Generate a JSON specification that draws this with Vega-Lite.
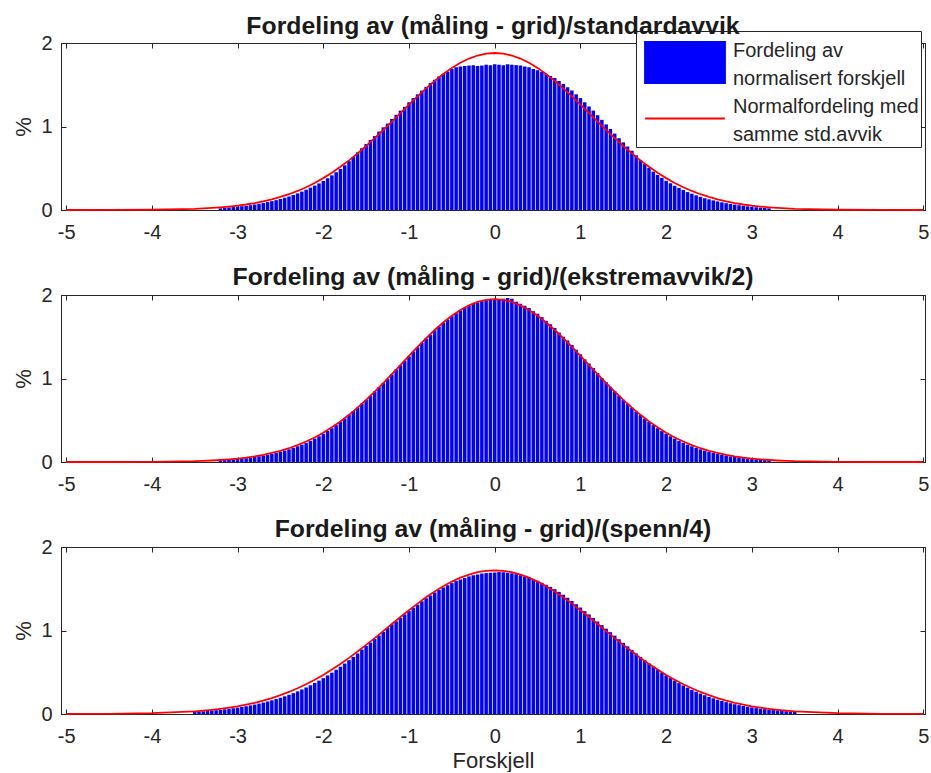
{
  "$schema": "https://vega.github.io/schema/vega-lite/v6.json",
  "padding": {"left": 12, "top": 13, "right": 0, "bottom": 0},
  "background": "white",
  "spacing": 21,
  "config": {
    "font": "Liberation Sans",
    "view": {"stroke": "#262626", "strokeWidth": 1},
    "axis": {"labelFont": "Liberation Sans", "labelFontSize": 20, "labelColor": "#262626", "titleFont": "Liberation Sans", "titleFontSize": 22, "titleFontWeight": "normal", "titleColor": "#262626", "domainColor": "#262626", "tickColor": "#262626", "tickSize": -5, "grid": false},
    "title": {"font": "Liberation Sans", "fontSize": 24.8, "fontWeight": "bold", "color": "#1a1a1a", "offset": -5}
  },
  "datasets": {
    "b1": [{"x":-3.2,"y":0.02},{"x":-3.15,"y":0.025},{"x":-3.1,"y":0.03},{"x":-3.05,"y":0.035},{"x":-3,"y":0.04},{"x":-2.95,"y":0.045},{"x":-2.9,"y":0.05},{"x":-2.85,"y":0.058},{"x":-2.8,"y":0.066},{"x":-2.75,"y":0.075},{"x":-2.7,"y":0.084},{"x":-2.65,"y":0.095},{"x":-2.6,"y":0.106},{"x":-2.55,"y":0.118},{"x":-2.5,"y":0.132},{"x":-2.45,"y":0.147},{"x":-2.4,"y":0.162},{"x":-2.35,"y":0.18},{"x":-2.3,"y":0.199},{"x":-2.25,"y":0.22},{"x":-2.2,"y":0.243},{"x":-2.15,"y":0.267},{"x":-2.1,"y":0.292},{"x":-2.05,"y":0.318},{"x":-2,"y":0.348},{"x":-1.95,"y":0.38},{"x":-1.9,"y":0.415},{"x":-1.85,"y":0.452},{"x":-1.8,"y":0.492},{"x":-1.75,"y":0.535},{"x":-1.7,"y":0.585},{"x":-1.65,"y":0.635},{"x":-1.6,"y":0.69},{"x":-1.55,"y":0.74},{"x":-1.5,"y":0.79},{"x":-1.45,"y":0.84},{"x":-1.4,"y":0.885},{"x":-1.35,"y":0.94},{"x":-1.3,"y":0.99},{"x":-1.25,"y":1.035},{"x":-1.2,"y":1.09},{"x":-1.15,"y":1.14},{"x":-1.1,"y":1.19},{"x":-1.05,"y":1.235},{"x":-1,"y":1.29},{"x":-0.95,"y":1.34},{"x":-0.9,"y":1.385},{"x":-0.85,"y":1.43},{"x":-0.8,"y":1.475},{"x":-0.75,"y":1.52},{"x":-0.7,"y":1.56},{"x":-0.65,"y":1.6},{"x":-0.6,"y":1.63},{"x":-0.55,"y":1.66},{"x":-0.5,"y":1.69},{"x":-0.45,"y":1.71},{"x":-0.4,"y":1.72},{"x":-0.35,"y":1.725},{"x":-0.3,"y":1.73},{"x":-0.25,"y":1.735},{"x":-0.2,"y":1.725},{"x":-0.15,"y":1.73},{"x":-0.1,"y":1.74},{"x":-0.05,"y":1.735},{"x":0,"y":1.745},{"x":0.05,"y":1.74},{"x":0.1,"y":1.735},{"x":0.15,"y":1.745},{"x":0.2,"y":1.74},{"x":0.25,"y":1.735},{"x":0.3,"y":1.73},{"x":0.35,"y":1.72},{"x":0.4,"y":1.71},{"x":0.45,"y":1.69},{"x":0.5,"y":1.675},{"x":0.55,"y":1.655},{"x":0.6,"y":1.63},{"x":0.65,"y":1.605},{"x":0.7,"y":1.58},{"x":0.75,"y":1.545},{"x":0.8,"y":1.51},{"x":0.85,"y":1.47},{"x":0.9,"y":1.43},{"x":0.95,"y":1.385},{"x":1,"y":1.34},{"x":1.05,"y":1.29},{"x":1.1,"y":1.24},{"x":1.15,"y":1.19},{"x":1.2,"y":1.135},{"x":1.25,"y":1.08},{"x":1.3,"y":1.025},{"x":1.35,"y":0.97},{"x":1.4,"y":0.915},{"x":1.45,"y":0.86},{"x":1.5,"y":0.81},{"x":1.55,"y":0.76},{"x":1.6,"y":0.71},{"x":1.65,"y":0.655},{"x":1.7,"y":0.6},{"x":1.75,"y":0.55},{"x":1.8,"y":0.505},{"x":1.85,"y":0.46},{"x":1.9,"y":0.42},{"x":1.95,"y":0.385},{"x":2,"y":0.35},{"x":2.05,"y":0.32},{"x":2.1,"y":0.29},{"x":2.15,"y":0.265},{"x":2.2,"y":0.24},{"x":2.25,"y":0.215},{"x":2.3,"y":0.195},{"x":2.35,"y":0.176},{"x":2.4,"y":0.158},{"x":2.45,"y":0.142},{"x":2.5,"y":0.128},{"x":2.55,"y":0.115},{"x":2.6,"y":0.103},{"x":2.65,"y":0.092},{"x":2.7,"y":0.082},{"x":2.75,"y":0.073},{"x":2.8,"y":0.065},{"x":2.85,"y":0.057},{"x":2.9,"y":0.05},{"x":2.95,"y":0.044},{"x":3,"y":0.038},{"x":3.05,"y":0.033},{"x":3.1,"y":0.028},{"x":3.15,"y":0.024},{"x":3.2,"y":0.02}],
    "b2": [{"x":-3.2,"y":0.018},{"x":-3.15,"y":0.022},{"x":-3.1,"y":0.026},{"x":-3.05,"y":0.03},{"x":-3,"y":0.035},{"x":-2.95,"y":0.04},{"x":-2.9,"y":0.046},{"x":-2.85,"y":0.052},{"x":-2.8,"y":0.06},{"x":-2.75,"y":0.068},{"x":-2.7,"y":0.077},{"x":-2.65,"y":0.087},{"x":-2.6,"y":0.098},{"x":-2.55,"y":0.109},{"x":-2.5,"y":0.122},{"x":-2.45,"y":0.137},{"x":-2.4,"y":0.152},{"x":-2.35,"y":0.169},{"x":-2.3,"y":0.188},{"x":-2.25,"y":0.208},{"x":-2.2,"y":0.23},{"x":-2.15,"y":0.254},{"x":-2.1,"y":0.28},{"x":-2.05,"y":0.308},{"x":-2,"y":0.338},{"x":-1.95,"y":0.372},{"x":-1.9,"y":0.405},{"x":-1.85,"y":0.442},{"x":-1.8,"y":0.48},{"x":-1.75,"y":0.522},{"x":-1.7,"y":0.565},{"x":-1.65,"y":0.61},{"x":-1.6,"y":0.652},{"x":-1.55,"y":0.7},{"x":-1.5,"y":0.745},{"x":-1.45,"y":0.792},{"x":-1.4,"y":0.845},{"x":-1.35,"y":0.895},{"x":-1.3,"y":0.945},{"x":-1.25,"y":0.995},{"x":-1.2,"y":1.05},{"x":-1.15,"y":1.108},{"x":-1.1,"y":1.16},{"x":-1.05,"y":1.212},{"x":-1,"y":1.265},{"x":-0.95,"y":1.322},{"x":-0.9,"y":1.375},{"x":-0.85,"y":1.428},{"x":-0.8,"y":1.478},{"x":-0.75,"y":1.525},{"x":-0.7,"y":1.578},{"x":-0.65,"y":1.622},{"x":-0.6,"y":1.668},{"x":-0.55,"y":1.708},{"x":-0.5,"y":1.745},{"x":-0.45,"y":1.782},{"x":-0.4,"y":1.815},{"x":-0.35,"y":1.845},{"x":-0.3,"y":1.872},{"x":-0.25,"y":1.892},{"x":-0.2,"y":1.91},{"x":-0.15,"y":1.925},{"x":-0.1,"y":1.935},{"x":-0.05,"y":1.942},{"x":0,"y":1.945},{"x":0.05,"y":1.95},{"x":0.1,"y":1.955},{"x":0.15,"y":1.965},{"x":0.2,"y":1.955},{"x":0.25,"y":1.92},{"x":0.3,"y":1.895},{"x":0.35,"y":1.87},{"x":0.4,"y":1.845},{"x":0.45,"y":1.805},{"x":0.5,"y":1.775},{"x":0.55,"y":1.735},{"x":0.6,"y":1.69},{"x":0.65,"y":1.65},{"x":0.7,"y":1.605},{"x":0.75,"y":1.55},{"x":0.8,"y":1.5},{"x":0.85,"y":1.455},{"x":0.9,"y":1.4},{"x":0.95,"y":1.345},{"x":1,"y":1.29},{"x":1.05,"y":1.23},{"x":1.1,"y":1.18},{"x":1.15,"y":1.125},{"x":1.2,"y":1.065},{"x":1.25,"y":1.005},{"x":1.3,"y":0.955},{"x":1.35,"y":0.9},{"x":1.4,"y":0.848},{"x":1.45,"y":0.795},{"x":1.5,"y":0.745},{"x":1.55,"y":0.698},{"x":1.6,"y":0.65},{"x":1.65,"y":0.605},{"x":1.7,"y":0.562},{"x":1.75,"y":0.52},{"x":1.8,"y":0.48},{"x":1.85,"y":0.442},{"x":1.9,"y":0.405},{"x":1.95,"y":0.37},{"x":2,"y":0.338},{"x":2.05,"y":0.308},{"x":2.1,"y":0.28},{"x":2.15,"y":0.254},{"x":2.2,"y":0.23},{"x":2.25,"y":0.208},{"x":2.3,"y":0.188},{"x":2.35,"y":0.169},{"x":2.4,"y":0.152},{"x":2.45,"y":0.137},{"x":2.5,"y":0.122},{"x":2.55,"y":0.109},{"x":2.6,"y":0.098},{"x":2.65,"y":0.087},{"x":2.7,"y":0.077},{"x":2.75,"y":0.068},{"x":2.8,"y":0.06},{"x":2.85,"y":0.052},{"x":2.9,"y":0.046},{"x":2.95,"y":0.04},{"x":3,"y":0.035},{"x":3.05,"y":0.03},{"x":3.1,"y":0.026},{"x":3.15,"y":0.022},{"x":3.2,"y":0.018}],
    "b3": [{"x":-3.5,"y":0.025},{"x":-3.45,"y":0.028},{"x":-3.4,"y":0.032},{"x":-3.35,"y":0.036},{"x":-3.3,"y":0.04},{"x":-3.25,"y":0.045},{"x":-3.2,"y":0.05},{"x":-3.15,"y":0.056},{"x":-3.1,"y":0.062},{"x":-3.05,"y":0.069},{"x":-3,"y":0.076},{"x":-2.95,"y":0.084},{"x":-2.9,"y":0.093},{"x":-2.85,"y":0.103},{"x":-2.8,"y":0.113},{"x":-2.75,"y":0.125},{"x":-2.7,"y":0.137},{"x":-2.65,"y":0.15},{"x":-2.6,"y":0.164},{"x":-2.55,"y":0.179},{"x":-2.5,"y":0.195},{"x":-2.45,"y":0.212},{"x":-2.4,"y":0.23},{"x":-2.35,"y":0.25},{"x":-2.3,"y":0.271},{"x":-2.25,"y":0.294},{"x":-2.2,"y":0.318},{"x":-2.15,"y":0.344},{"x":-2.1,"y":0.372},{"x":-2.05,"y":0.4},{"x":-2,"y":0.43},{"x":-1.95,"y":0.462},{"x":-1.9,"y":0.495},{"x":-1.85,"y":0.53},{"x":-1.8,"y":0.566},{"x":-1.75,"y":0.604},{"x":-1.7,"y":0.644},{"x":-1.65,"y":0.684},{"x":-1.6,"y":0.725},{"x":-1.55,"y":0.772},{"x":-1.5,"y":0.815},{"x":-1.45,"y":0.855},{"x":-1.4,"y":0.898},{"x":-1.35,"y":0.94},{"x":-1.3,"y":0.982},{"x":-1.25,"y":1.03},{"x":-1.2,"y":1.075},{"x":-1.15,"y":1.11},{"x":-1.1,"y":1.152},{"x":-1.05,"y":1.192},{"x":-1,"y":1.232},{"x":-0.95,"y":1.272},{"x":-0.9,"y":1.31},{"x":-0.85,"y":1.35},{"x":-0.8,"y":1.386},{"x":-0.75,"y":1.42},{"x":-0.7,"y":1.455},{"x":-0.65,"y":1.485},{"x":-0.6,"y":1.515},{"x":-0.55,"y":1.542},{"x":-0.5,"y":1.568},{"x":-0.45,"y":1.592},{"x":-0.4,"y":1.612},{"x":-0.35,"y":1.63},{"x":-0.3,"y":1.648},{"x":-0.25,"y":1.662},{"x":-0.2,"y":1.672},{"x":-0.15,"y":1.682},{"x":-0.1,"y":1.688},{"x":-0.05,"y":1.692},{"x":0,"y":1.695},{"x":0.05,"y":1.7},{"x":0.1,"y":1.698},{"x":0.15,"y":1.692},{"x":0.2,"y":1.685},{"x":0.25,"y":1.675},{"x":0.3,"y":1.662},{"x":0.35,"y":1.648},{"x":0.4,"y":1.632},{"x":0.45,"y":1.612},{"x":0.5,"y":1.595},{"x":0.55,"y":1.572},{"x":0.6,"y":1.548},{"x":0.65,"y":1.522},{"x":0.7,"y":1.495},{"x":0.75,"y":1.462},{"x":0.8,"y":1.428},{"x":0.85,"y":1.392},{"x":0.9,"y":1.352},{"x":0.95,"y":1.315},{"x":1,"y":1.275},{"x":1.05,"y":1.232},{"x":1.1,"y":1.192},{"x":1.15,"y":1.15},{"x":1.2,"y":1.108},{"x":1.25,"y":1.065},{"x":1.3,"y":1.022},{"x":1.35,"y":0.98},{"x":1.4,"y":0.938},{"x":1.45,"y":0.895},{"x":1.5,"y":0.852},{"x":1.55,"y":0.81},{"x":1.6,"y":0.768},{"x":1.65,"y":0.725},{"x":1.7,"y":0.684},{"x":1.75,"y":0.645},{"x":1.8,"y":0.606},{"x":1.85,"y":0.568},{"x":1.9,"y":0.532},{"x":1.95,"y":0.497},{"x":2,"y":0.463},{"x":2.05,"y":0.43},{"x":2.1,"y":0.4},{"x":2.15,"y":0.37},{"x":2.2,"y":0.342},{"x":2.25,"y":0.316},{"x":2.3,"y":0.29},{"x":2.35,"y":0.267},{"x":2.4,"y":0.245},{"x":2.45,"y":0.225},{"x":2.5,"y":0.205},{"x":2.55,"y":0.188},{"x":2.6,"y":0.171},{"x":2.65,"y":0.156},{"x":2.7,"y":0.142},{"x":2.75,"y":0.129},{"x":2.8,"y":0.117},{"x":2.85,"y":0.106},{"x":2.9,"y":0.096},{"x":2.95,"y":0.087},{"x":3,"y":0.079},{"x":3.05,"y":0.071},{"x":3.1,"y":0.064},{"x":3.15,"y":0.058},{"x":3.2,"y":0.052},{"x":3.25,"y":0.047},{"x":3.3,"y":0.042},{"x":3.35,"y":0.037},{"x":3.4,"y":0.033},{"x":3.45,"y":0.029},{"x":3.5,"y":0.026}],
    "c1": [{"x":-5,"y":0},{"x":-4.5,"y":0.0005},{"x":-4,"y":0.003},{"x":-3.5,"y":0.014},{"x":-3.4,"y":0.019},{"x":-3.3,"y":0.025},{"x":-3.2,"y":0.032},{"x":-3.1,"y":0.041},{"x":-3,"y":0.052},{"x":-2.9,"y":0.066},{"x":-2.8,"y":0.083},{"x":-2.7,"y":0.103},{"x":-2.6,"y":0.127},{"x":-2.5,"y":0.156},{"x":-2.4,"y":0.189},{"x":-2.3,"y":0.228},{"x":-2.2,"y":0.273},{"x":-2.1,"y":0.324},{"x":-2,"y":0.382},{"x":-1.9,"y":0.446},{"x":-1.8,"y":0.517},{"x":-1.7,"y":0.594},{"x":-1.6,"y":0.678},{"x":-1.5,"y":0.767},{"x":-1.4,"y":0.861},{"x":-1.3,"y":0.959},{"x":-1.2,"y":1.059},{"x":-1.1,"y":1.161},{"x":-1,"y":1.262},{"x":-0.9,"y":1.361},{"x":-0.8,"y":1.457},{"x":-0.7,"y":1.547},{"x":-0.6,"y":1.629},{"x":-0.5,"y":1.702},{"x":-0.4,"y":1.764},{"x":-0.3,"y":1.814},{"x":-0.2,"y":1.85},{"x":-0.1,"y":1.873},{"x":0,"y":1.88},{"x":0.1,"y":1.873},{"x":0.2,"y":1.85},{"x":0.3,"y":1.814},{"x":0.4,"y":1.764},{"x":0.5,"y":1.702},{"x":0.6,"y":1.629},{"x":0.7,"y":1.547},{"x":0.8,"y":1.457},{"x":0.9,"y":1.361},{"x":1,"y":1.262},{"x":1.1,"y":1.161},{"x":1.2,"y":1.059},{"x":1.3,"y":0.959},{"x":1.4,"y":0.861},{"x":1.5,"y":0.767},{"x":1.6,"y":0.678},{"x":1.7,"y":0.594},{"x":1.8,"y":0.517},{"x":1.9,"y":0.446},{"x":2,"y":0.382},{"x":2.1,"y":0.324},{"x":2.2,"y":0.273},{"x":2.3,"y":0.228},{"x":2.4,"y":0.189},{"x":2.5,"y":0.156},{"x":2.6,"y":0.127},{"x":2.7,"y":0.103},{"x":2.8,"y":0.083},{"x":2.9,"y":0.066},{"x":3,"y":0.052},{"x":3.1,"y":0.041},{"x":3.2,"y":0.032},{"x":3.3,"y":0.025},{"x":3.4,"y":0.019},{"x":3.5,"y":0.014},{"x":4,"y":0.003},{"x":4.5,"y":0.0005},{"x":5,"y":0}],
    "c2": [{"x":-5,"y":0},{"x":-4.5,"y":0},{"x":-4,"y":0.002},{"x":-3.5,"y":0.01},{"x":-3.4,"y":0.014},{"x":-3.3,"y":0.018},{"x":-3.2,"y":0.024},{"x":-3.1,"y":0.032},{"x":-3,"y":0.041},{"x":-2.9,"y":0.053},{"x":-2.8,"y":0.068},{"x":-2.7,"y":0.086},{"x":-2.6,"y":0.108},{"x":-2.5,"y":0.134},{"x":-2.4,"y":0.165},{"x":-2.3,"y":0.202},{"x":-2.2,"y":0.245},{"x":-2.1,"y":0.294},{"x":-2,"y":0.351},{"x":-1.9,"y":0.415},{"x":-1.8,"y":0.486},{"x":-1.7,"y":0.565},{"x":-1.6,"y":0.651},{"x":-1.5,"y":0.743},{"x":-1.4,"y":0.842},{"x":-1.3,"y":0.945},{"x":-1.2,"y":1.052},{"x":-1.1,"y":1.161},{"x":-1,"y":1.27},{"x":-0.9,"y":1.378},{"x":-0.8,"y":1.482},{"x":-0.7,"y":1.581},{"x":-0.6,"y":1.671},{"x":-0.5,"y":1.752},{"x":-0.4,"y":1.821},{"x":-0.3,"y":1.876},{"x":-0.2,"y":1.917},{"x":-0.1,"y":1.942},{"x":0,"y":1.95},{"x":0.1,"y":1.942},{"x":0.2,"y":1.917},{"x":0.3,"y":1.876},{"x":0.4,"y":1.821},{"x":0.5,"y":1.752},{"x":0.6,"y":1.671},{"x":0.7,"y":1.581},{"x":0.8,"y":1.482},{"x":0.9,"y":1.378},{"x":1,"y":1.27},{"x":1.1,"y":1.161},{"x":1.2,"y":1.052},{"x":1.3,"y":0.945},{"x":1.4,"y":0.842},{"x":1.5,"y":0.743},{"x":1.6,"y":0.651},{"x":1.7,"y":0.565},{"x":1.8,"y":0.486},{"x":1.9,"y":0.415},{"x":2,"y":0.351},{"x":2.1,"y":0.294},{"x":2.2,"y":0.245},{"x":2.3,"y":0.202},{"x":2.4,"y":0.165},{"x":2.5,"y":0.134},{"x":2.6,"y":0.108},{"x":2.7,"y":0.086},{"x":2.8,"y":0.068},{"x":2.9,"y":0.053},{"x":3,"y":0.041},{"x":3.1,"y":0.032},{"x":3.2,"y":0.024},{"x":3.3,"y":0.018},{"x":3.4,"y":0.014},{"x":3.5,"y":0.01},{"x":4,"y":0.002},{"x":4.5,"y":0},{"x":5,"y":0}],
    "c3": [{"x":-5,"y":0.0005},{"x":-4.5,"y":0.002},{"x":-4,"y":0.01},{"x":-3.5,"y":0.032},{"x":-3.4,"y":0.04},{"x":-3.3,"y":0.05},{"x":-3.2,"y":0.062},{"x":-3.1,"y":0.076},{"x":-3,"y":0.092},{"x":-2.9,"y":0.112},{"x":-2.8,"y":0.134},{"x":-2.7,"y":0.161},{"x":-2.6,"y":0.191},{"x":-2.5,"y":0.225},{"x":-2.4,"y":0.264},{"x":-2.3,"y":0.308},{"x":-2.2,"y":0.356},{"x":-2.1,"y":0.41},{"x":-2,"y":0.468},{"x":-1.9,"y":0.532},{"x":-1.8,"y":0.6},{"x":-1.7,"y":0.672},{"x":-1.6,"y":0.748},{"x":-1.5,"y":0.828},{"x":-1.4,"y":0.909},{"x":-1.3,"y":0.993},{"x":-1.2,"y":1.077},{"x":-1.1,"y":1.161},{"x":-1,"y":1.243},{"x":-0.9,"y":1.322},{"x":-0.8,"y":1.397},{"x":-0.7,"y":1.467},{"x":-0.6,"y":1.53},{"x":-0.5,"y":1.586},{"x":-0.4,"y":1.633},{"x":-0.3,"y":1.67},{"x":-0.2,"y":1.698},{"x":-0.1,"y":1.714},{"x":0,"y":1.72},{"x":0.1,"y":1.714},{"x":0.2,"y":1.698},{"x":0.3,"y":1.67},{"x":0.4,"y":1.633},{"x":0.5,"y":1.586},{"x":0.6,"y":1.53},{"x":0.7,"y":1.467},{"x":0.8,"y":1.397},{"x":0.9,"y":1.322},{"x":1,"y":1.243},{"x":1.1,"y":1.161},{"x":1.2,"y":1.077},{"x":1.3,"y":0.993},{"x":1.4,"y":0.909},{"x":1.5,"y":0.828},{"x":1.6,"y":0.748},{"x":1.7,"y":0.672},{"x":1.8,"y":0.6},{"x":1.9,"y":0.532},{"x":2,"y":0.468},{"x":2.1,"y":0.41},{"x":2.2,"y":0.356},{"x":2.3,"y":0.308},{"x":2.4,"y":0.264},{"x":2.5,"y":0.225},{"x":2.6,"y":0.191},{"x":2.7,"y":0.161},{"x":2.8,"y":0.134},{"x":2.9,"y":0.112},{"x":3,"y":0.092},{"x":3.1,"y":0.076},{"x":3.2,"y":0.062},{"x":3.3,"y":0.05},{"x":3.4,"y":0.04},{"x":3.5,"y":0.032},{"x":4,"y":0.01},{"x":4.5,"y":0.002},{"x":5,"y":0.0005}]
  },
  "resolve": {"scale": {"color": "independent"}, "legend": {"color": "independent"}},
  "vconcat": [
    {
      "width": 864, "height": 167,
      "title": {"text": "Fordeling av (måling - grid)/standardavvik", "offset": -8.4},
      "resolve": {"axis": {"x": "independent", "y": "independent"}},
      "layer": [
        {
          "data": {"name": "b1"},
          "mark": {"type": "bar", "width": 3.5},
          "encoding": {
            "x": {"field": "x", "type": "quantitative", "scale": {"domain": [-5.06, 5.02], "nice": false, "zero": false, "padding": 0}, "axis": {"orient": "bottom", "values": [-5,-4,-3,-2,-1,0,1,2,3,4,5], "title": null, "labelPadding": 17, "labelFlush": false, "labelExpr": "'' + datum.value"}},
            "y": {"field": "y", "type": "quantitative", "scale": {"domain": [0, 2], "nice": false}, "axis": {"orient": "left", "values": [0,1,2], "title": "%", "labelPadding": 14, "titlePadding": 5, "labelExpr": "'' + datum.value"}},
            "color": {"datum": "hist", "scale": {"domain": ["hist", "normal"], "range": ["#0000ff", "#ff0000"]},
              "legend": {
                "title": null, "orient": "none", "legendX": 575, "legendY": -12,
                "fillColor": "#ffffff", "strokeColor": "#262626", "padding": 2,
                "labelFont": "Liberation Sans", "labelFontSize": 20, "labelColor": "#262626", "labelLimit": 400,
                "symbolSize": 3249, "symbolOffset": 17.5, "labelOffset": 18.5, "rowPadding": 0,
                "labelExpr": "datum.value == 'hist' ? ['Fordeling av', 'normalisert forskjell'] : ['Normalfordeling med\u00a0\u2009', 'samme std.avvik']",
                "encode": {
                  "symbols": {"update": {
                    "shape": {"signal": "datum.value == 'hist' ? 'M-1.4,-0.72H1.4V0.72H-1.4Z' : 'M-1.4,0H1.4'"},
                    "fill": {"signal": "datum.value == 'hist' ? '#0000ff' : 'transparent'"},
                    "stroke": {"signal": "datum.value == 'hist' ? 'transparent' : '#ff0000'"},
                    "strokeWidth": {"value": 2},
                    "opacity": {"value": 1}
                  }},
                  "labels": {"update": {"lineHeight": {"value": 28}, "dy": {"value": -12}}}
                }
              }
            }
          }
        },
        {
          "data": {"name": "c1"},
          "mark": {"type": "line", "strokeWidth": 1.8},
          "encoding": {
            "x": {"field": "x", "type": "quantitative", "axis": {"orient": "top", "values": [-5,-4,-3,-2,-1,0,1,2,3,4,5], "title": null, "labels": false, "domain": false, "minExtent": 0, "maxExtent": 0}},
            "y": {"field": "y", "type": "quantitative", "axis": {"orient": "right", "values": [0,1,2], "title": null, "labels": false, "domain": false, "minExtent": 0, "maxExtent": 0}},
            "color": {"datum": "normal"}
          }
        }
      ]
    },
    {
      "width": 864, "height": 167,
      "title": "Fordeling av (måling - grid)/(ekstremavvik/2)",
      "resolve": {"axis": {"x": "independent", "y": "independent"}},
      "layer": [
        {
          "data": {"name": "b2"},
          "mark": {"type": "bar", "width": 3.5, "color": "#0000ff"},
          "encoding": {
            "x": {"field": "x", "type": "quantitative", "scale": {"domain": [-5.06, 5.02], "nice": false, "zero": false, "padding": 0}, "axis": {"orient": "bottom", "values": [-5,-4,-3,-2,-1,0,1,2,3,4,5], "title": null, "labelPadding": 17, "labelFlush": false, "labelExpr": "'' + datum.value"}},
            "y": {"field": "y", "type": "quantitative", "scale": {"domain": [0, 2], "nice": false}, "axis": {"orient": "left", "values": [0,1,2], "title": "%", "labelPadding": 14, "titlePadding": 5, "labelExpr": "'' + datum.value"}}
          }
        },
        {
          "data": {"name": "c2"},
          "mark": {"type": "line", "strokeWidth": 1.8, "color": "#ff0000"},
          "encoding": {
            "x": {"field": "x", "type": "quantitative", "axis": {"orient": "top", "values": [-5,-4,-3,-2,-1,0,1,2,3,4,5], "title": null, "labels": false, "domain": false, "minExtent": 0, "maxExtent": 0}},
            "y": {"field": "y", "type": "quantitative", "axis": {"orient": "right", "values": [0,1,2], "title": null, "labels": false, "domain": false, "minExtent": 0, "maxExtent": 0}}
          }
        }
      ]
    },
    {
      "width": 864, "height": 167,
      "title": "Fordeling av (måling - grid)/(spenn/4)",
      "resolve": {"axis": {"x": "independent", "y": "independent"}},
      "layer": [
        {
          "data": {"name": "b3"},
          "mark": {"type": "bar", "width": 3.5, "color": "#0000ff"},
          "encoding": {
            "x": {"field": "x", "type": "quantitative", "scale": {"domain": [-5.06, 5.02], "nice": false, "zero": false, "padding": 0}, "axis": {"orient": "bottom", "values": [-5,-4,-3,-2,-1,0,1,2,3,4,5], "title": "Forskjell", "titlePadding": 4, "labelPadding": 17, "labelFlush": false, "labelExpr": "'' + datum.value"}},
            "y": {"field": "y", "type": "quantitative", "scale": {"domain": [0, 2], "nice": false}, "axis": {"orient": "left", "values": [0,1,2], "title": "%", "labelPadding": 14, "titlePadding": 5, "labelExpr": "'' + datum.value"}}
          }
        },
        {
          "data": {"name": "c3"},
          "mark": {"type": "line", "strokeWidth": 1.8, "color": "#ff0000"},
          "encoding": {
            "x": {"field": "x", "type": "quantitative", "axis": {"orient": "top", "values": [-5,-4,-3,-2,-1,0,1,2,3,4,5], "title": null, "labels": false, "domain": false, "minExtent": 0, "maxExtent": 0}},
            "y": {"field": "y", "type": "quantitative", "axis": {"orient": "right", "values": [0,1,2], "title": null, "labels": false, "domain": false, "minExtent": 0, "maxExtent": 0}}
          }
        }
      ]
    }
  ]
}
